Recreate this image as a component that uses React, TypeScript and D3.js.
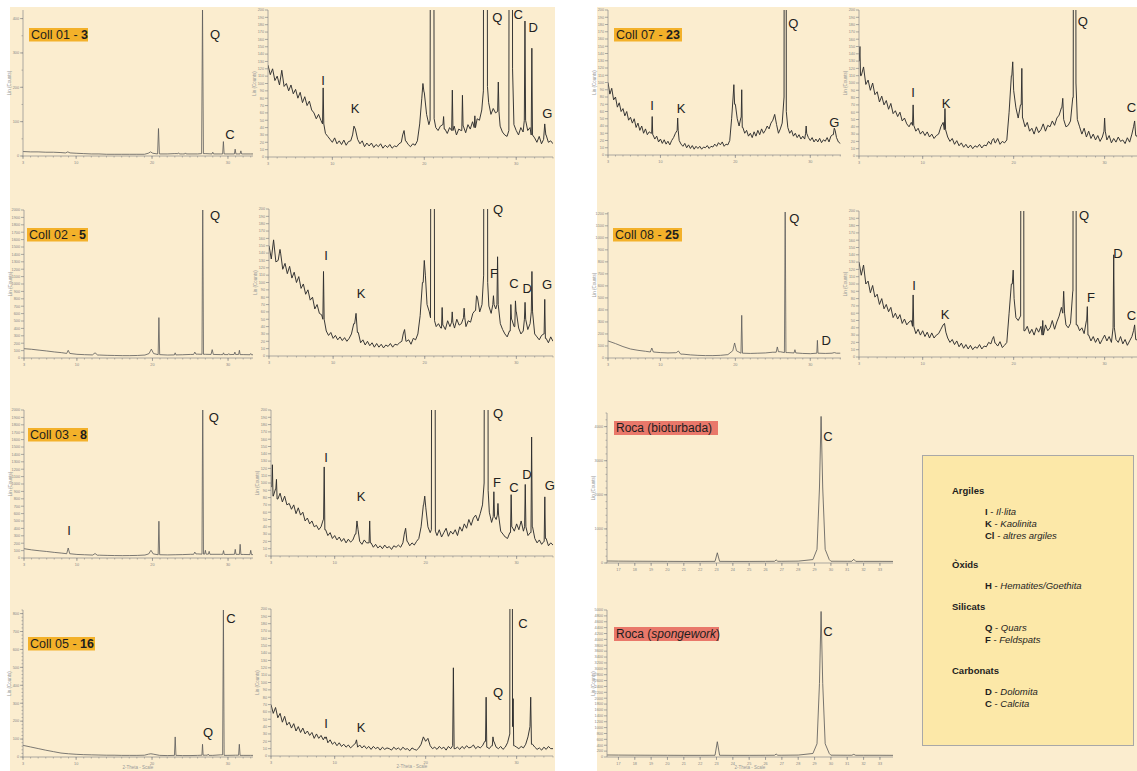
import React from "react";
import * as d3 from "d3";

type Peak = [number, number, number?];
type Pt = [number, number];
type Label = [string, number, number];

// sampling of the background arrays (2-Theta, degrees)
const START = 3;
const ZOOM_STEP = 0.25;
const FULL_STEP = 1;
const ROCA_START = 16;

const mainTicks = [3, 10, 20, 30];
const rocaTicks = d3.range(17, 34);

// ---------- Coll 01 - 3 ----------
const coll01Full = [13, 12, 12, 11, 11, 10, 9, 8, 7, 6, 6, 5, 5, 5, 5, 5, 5, 8, 6, 6, 7, 6, 6, 6, 7, 6, 6, 6, 6, 6, 6, 6];
const coll01FullPeaks: Peak[] = [[8.9, 12, 0.3], [19.8, 12, 0.3], [20.85, 80, 0.12], [23.5, 9, 0.1], [24.4, 9, 0.1], [26.65, 440, 0.12], [28.0, 11, 0.1], [29.4, 42, 0.1], [30.95, 20, 0.1], [31.7, 15, 0.1]];
const coll01Zoom = [
  125, 112, 120, 104, 110, 98, 118, 96, 100, 90, 98, 86, 92, 80, 88, 74, 82, 70, 76, 64,
  60, 52, 58, 50, 45, 32, 28, 24, 20, 26, 18, 22, 17, 23, 16, 21, 22, 30, 38, 24,
  18, 22, 14, 19, 15, 19, 13, 17, 14, 18, 12, 16, 13, 17, 12, 15, 14, 18, 20, 30,
  22, 17, 14, 18, 16, 22, 45, 80, 88, 58, 44, 50, 52, 40, 36, 42, 44, 38, 32, 40,
  36, 42, 30, 38, 36, 42, 33, 44, 38, 48, 40, 52, 50, 64, 90, 96, 74, 58, 66, 60,
  62, 42, 34, 30, 28, 36, 120, 44, 36, 30, 40, 34, 50, 36, 40, 30, 26, 20, 28, 18,
  24, 30, 20, 22, 18,
];
const coll01ZoomPeaks: Peak[] = [[9.0, 94], [12.35, 42, 0.15], [17.8, 36, 0.15], [19.85, 100, 0.12], [20.85, 2000, 0.22], [22.1, 55], [23.05, 91], [24.15, 84], [25.5, 56], [26.65, 3000, 0.22], [28.05, 102], [29.4, 2500, 0.2], [30.95, 185], [31.7, 148], [33.1, 45, 0.12]];

// ---------- Coll 02 - 5 ----------
const coll02Full = [126, 118, 106, 95, 82, 72, 62, 50, 45, 42, 40, 36, 34, 32, 32, 34, 40, 60, 45, 40, 42, 44, 48, 52, 50, 48, 46, 46, 48, 46, 44, 44];
const coll02FullPeaks: Peak[] = [[8.85, 104, 0.2], [12.4, 70, 0.35], [19.85, 120, 0.3], [20.85, 546, 0.1], [23.0, 70, 0.1], [25.6, 80, 0.15], [26.65, 2200, 0.1], [27.9, 113, 0.15], [29.4, 70, 0.1], [30.1, 60, 0.1], [30.9, 80, 0.1], [31.5, 104, 0.1], [33.0, 60, 0.1]];
const coll02Zoom = [
  150, 132, 158, 128, 130, 140, 118, 126, 112, 122, 106, 114, 100, 108, 92, 98, 84, 90, 76, 80,
  64, 70, 58, 56, 50, 34, 28, 32, 24, 28, 22, 26, 21, 25, 20, 24, 30, 44, 50, 32,
  18, 22, 15, 20, 14, 18, 12, 17, 12, 16, 11, 15, 13, 17, 12, 16, 15, 18, 20, 30,
  20, 22, 16, 24, 22, 30, 55, 100, 110, 70, 60, 52, 48, 40, 44, 38, 42, 36, 48, 40,
  46, 38, 50, 42, 44, 52, 40, 48, 46, 58, 62, 80, 60, 70, 110, 100, 68, 58, 70, 64,
  70, 44, 36, 30, 26, 34, 50, 40, 60, 38, 30, 34, 50, 36, 44, 60, 30, 26, 22, 28,
  30, 24, 18, 26, 20,
];
const coll02ZoomPeaks: Peak[] = [[4.2, 145], [8.95, 115], [12.5, 58, 0.15], [17.8, 36, 0.15], [19.95, 130, 0.12], [20.85, 2000, 0.22], [21.9, 66], [23.0, 60], [24.3, 65], [25.65, 82, 0.1], [26.65, 3000, 0.22], [27.5, 82], [27.95, 135], [29.4, 70], [29.9, 75], [30.95, 73], [31.7, 115], [33.1, 77]];

// ---------- Coll 03 - 8 ----------
const coll03Full = [126, 110, 98, 88, 76, 66, 58, 48, 44, 40, 38, 35, 33, 32, 33, 35, 40, 55, 44, 42, 44, 46, 50, 55, 52, 50, 50, 48, 50, 48, 46, 46];
const coll03FullPeaks: Peak[] = [[8.85, 135, 0.2], [12.4, 60, 0.3], [19.8, 104, 0.3], [20.85, 497, 0.1], [25.6, 80, 0.15], [26.65, 2300, 0.1], [27.0, 104, 0.1], [27.5, 90, 0.1], [29.4, 100, 0.1], [30.95, 117, 0.1], [31.6, 185, 0.1], [33.0, 104, 0.1]];
const coll03Zoom = [
  95, 82, 92, 78, 86, 74, 82, 70, 72, 64, 70, 58, 66, 56, 60, 48, 52, 44, 48, 40,
  42, 36, 40, 50, 36, 28, 32, 24, 28, 22, 26, 20, 24, 18, 23, 19, 22, 30, 36, 20,
  16, 22, 18, 18, 18, 12, 16, 11, 14, 10, 15, 11, 13, 9, 14, 12, 15, 12, 18, 30,
  20, 14, 18, 15, 20, 24, 40, 70, 66, 40, 32, 36, 34, 28, 36, 26, 32, 38, 27, 34,
  30, 36, 28, 40, 34, 44, 38, 50, 42, 52, 56, 48, 58, 70, 100, 90, 60, 46, 54, 50,
  56, 34, 30, 26, 24, 32, 40, 34, 44, 36, 48, 34, 40, 28, 32, 40, 24, 18, 22, 16,
  20, 24, 14, 18, 15,
];
const coll03ZoomPeaks: Peak[] = [[3.15, 125], [3.6, 105], [8.85, 122], [12.45, 48, 0.12], [13.85, 48], [17.8, 38, 0.15], [19.9, 82, 0.12], [20.85, 2000, 0.22], [26.65, 3000, 0.22], [27.5, 88], [27.95, 72], [29.4, 84], [30.95, 98], [31.65, 163], [33.1, 81]];

// ---------- Coll 05 - 16 ----------
const coll05Full = [65, 56, 47, 38, 30, 22, 18, 15, 13, 12, 11, 10, 10, 9, 9, 9, 10, 16, 9, 8, 9, 8, 8, 9, 10, 9, 12, 9, 10, 9, 9, 9];
const coll05FullPeaks: Peak[] = [[19.85, 18, 0.3], [23.05, 112, 0.1], [26.65, 71, 0.08], [27.4, 16, 0.1], [29.4, 830, 0.1], [31.5, 71, 0.1]];
const coll05Zoom = [
  70, 58, 66, 52, 58, 46, 54, 42, 46, 38, 44, 34, 40, 32, 38, 30, 34, 28, 32, 24,
  30, 24, 28, 22, 26, 18, 22, 16, 19, 14, 18, 13, 16, 12, 15, 11, 14, 17, 12, 15,
  11, 14, 10, 13, 9, 13, 10, 12, 8, 12, 9, 11, 10, 8, 12, 9, 11, 8, 12, 9,
  10, 7, 11, 9, 8, 11, 16, 26, 20, 24, 14, 10, 12, 9, 13, 10, 12, 8, 13, 10,
  14, 10, 12, 9, 13, 10, 14, 11, 12, 15, 10, 13, 11, 14, 20, 12, 10, 14, 20, 12,
  10, 13, 9, 12, 18, 30, 40, 14, 12, 10, 13, 11, 16, 26, 40, 16, 12, 9, 11, 8,
  12, 9, 13, 10, 10,
];
const coll05ZoomPeaks: Peak[] = [[9.0, 24], [12.4, 22, 0.12], [23.05, 120, 0.08], [26.65, 80, 0.07], [27.4, 26], [29.4, 2000, 0.15], [29.62, 78, 0.06], [31.55, 80, 0.08]];

// ---------- Coll 07 - 23 ----------
const coll07Full = [
  100, 84, 92, 76, 80, 66, 72, 60, 64, 54, 60, 48, 52, 44, 50, 38, 44, 34, 40, 30,
  36, 28, 32, 30, 28, 22, 26, 18, 22, 16, 21, 15, 19, 14, 20, 24, 30, 34, 20, 15,
  12, 16, 10, 14, 9, 13, 8, 12, 9, 12, 8, 11, 10, 13, 9, 12, 11, 15, 12, 17,
  14, 18, 12, 15, 14, 20, 50, 80, 70, 50, 40, 52, 38, 30, 34, 26, 30, 24, 32, 26,
  34, 28, 36, 30, 34, 40, 36, 44, 48, 56, 42, 30, 36, 44, 80, 60, 38, 30, 34, 26,
  30, 24, 28, 22, 26, 22, 30, 24, 20, 24, 18, 22, 18, 23, 17, 21, 19, 24, 18, 26,
  28, 34, 24, 18, 16,
];
const coll07FullPeaks: Peak[] = [[8.9, 53], [12.3, 51], [19.8, 97, 0.1], [20.85, 90, 0.07], [26.65, 2500, 0.15], [29.45, 40], [33.2, 37, 0.12]];
const coll07Zoom = [
  130, 110, 122, 98, 104, 90, 100, 84, 88, 74, 82, 70, 76, 64, 72, 58, 62, 54, 60, 48,
  52, 44, 40, 46, 42, 34, 38, 30, 34, 28, 33, 26, 30, 24, 28, 30, 40, 46, 36, 26,
  20, 24, 16, 21, 14, 18, 12, 16, 11, 15, 10, 14, 12, 16, 11, 15, 14, 20, 16, 22,
  18, 24, 16, 20, 18, 22, 60, 110, 90, 66, 52, 70, 52, 40, 46, 34, 38, 30, 40, 32,
  36, 44, 34, 42, 40, 48, 42, 52, 56, 66, 50, 40, 42, 48, 80, 100, 50, 40, 30, 38,
  26, 34, 24, 30, 22, 28, 20, 26, 34, 22, 28, 18, 24, 19, 26, 20, 22, 17, 25, 19,
  30, 40, 28, 22, 20,
];
const coll07ZoomPeaks: Peak[] = [[3.1, 150], [8.95, 70], [12.45, 65], [17.8, 24, 0.15], [19.9, 129, 0.1], [20.9, 120, 0.07], [25.4, 79, 0.1], [26.7, 2500, 0.15], [30.0, 52], [33.3, 48, 0.12]];

// ---------- Coll 08 - 25 ----------
const coll08Full = [142, 120, 95, 75, 64, 56, 50, 45, 42, 44, 32, 26, 22, 20, 20, 22, 28, 60, 40, 38, 40, 42, 48, 52, 45, 42, 38, 36, 40, 38, 40, 40];
const coll08FullPeaks: Peak[] = [[8.85, 83, 0.2], [12.4, 58, 0.3], [19.9, 125, 0.25], [20.85, 355, 0.1], [25.6, 92, 0.15], [26.65, 1300, 0.1], [27.95, 69, 0.12], [30.95, 147, 0.08], [33.2, 45, 0.3]];
const coll08Zoom = [
  130, 112, 126, 100, 104, 88, 98, 82, 86, 72, 80, 66, 72, 62, 68, 54, 60, 52, 58, 46,
  52, 44, 48, 50, 42, 32, 38, 30, 36, 28, 34, 26, 33, 26, 30, 32, 38, 44, 34, 26,
  20, 24, 17, 22, 14, 19, 12, 17, 11, 16, 10, 14, 12, 17, 11, 15, 14, 20, 18, 24,
  19, 15, 21, 13, 16, 20, 60, 100, 80, 54, 50, 56, 46, 36, 42, 32, 38, 30, 40, 34,
  42, 30, 44, 36, 40, 50, 38, 48, 56, 68, 60, 44, 40, 46, 90, 120, 44, 36, 40, 32,
  50, 30, 22, 28, 20, 26, 18, 24, 30, 22, 28, 20, 40, 24, 20, 28, 18, 24, 16, 22,
  28, 36, 24, 20, 18,
];
const coll08ZoomPeaks: Peak[] = [[8.95, 85], [12.4, 46, 0.15], [17.8, 28, 0.15], [19.95, 119, 0.1], [20.95, 2000, 0.18], [23.2, 50], [25.5, 90, 0.1], [26.7, 2500, 0.18], [28.1, 69], [31.0, 140], [33.3, 44, 0.12]];

// ---------- Roca ----------
const rocaBio = [60, 55, 52, 50, 48, 46, 46, 48, 46, 46, 48, 50, 55, 60, 52, 50, 48, 48, 46];
const rocaBioPeaks: Peak[] = [[23.05, 300, 0.14], [26.65, 90, 0.1], [31.4, 110, 0.12]];
const rocaBioCalcite: Pt[] = [[28.9, 100], [29.15, 400], [29.3, 2200], [29.4, 4300], [29.5, 2200], [29.65, 400], [29.9, 100]];
const rocaSpo = [70, 65, 62, 60, 58, 56, 56, 58, 56, 56, 58, 60, 65, 70, 62, 60, 58, 58, 56];
const rocaSpoPeaks: Peak[] = [[23.05, 520, 0.14], [26.65, 100, 0.1], [31.4, 90, 0.12]];
const rocaSpoCalcite: Pt[] = [[28.9, 120], [29.15, 450], [29.3, 2500], [29.4, 4950], [29.5, 2500], [29.65, 450], [29.9, 120]];

// ---------- peak letters: [letter, 2-theta, counts] ----------
const lab01Full: Label[] = [["Q", 28.3, 341], ["C", 30.27, 50]];
const lab01Zoom: Label[] = [["I", 9.0, 98], ["K", 12.47, 60], ["Q", 27.93, 184], ["C", 30.22, 188], ["D", 31.85, 170], ["G", 33.38, 53]];
const lab02Full: Label[] = [["Q", 28.27, 1865]];
const lab02Zoom: Label[] = [["I", 9.22, 131], ["K", 13.04, 79], ["Q", 28.0, 193], ["F", 27.56, 106], ["C", 29.75, 92], ["D", 31.17, 86], ["G", 33.35, 91]];
const lab03Full: Label[] = [["Q", 28.13, 1838], ["I", 8.95, 311]];
const lab03Zoom: Label[] = [["I", 9.04, 129], ["K", 12.89, 75], ["Q", 27.95, 189], ["F", 27.84, 94], ["C", 29.7, 88], ["D", 31.13, 105], ["G", 33.66, 90]];
const lab05Full: Label[] = [["C", 30.4, 747], ["Q", 27.37, 112]];
const lab05Zoom: Label[] = [["C", 30.69, 174], ["Q", 27.95, 80], ["I", 9.04, 38], ["K", 12.89, 33]];
const lab07Full: Label[] = [["Q", 27.73, 175], ["I", 8.88, 62], ["K", 12.76, 58], ["G", 33.21, 39]];
const lab07Zoom: Label[] = [["I", 8.93, 81], ["K", 12.56, 66], ["Q", 27.6, 178], ["C", 32.95, 60]];
const lab08Full: Label[] = [["Q", 27.87, 1123], ["D", 32.14, 108]];
const lab08Zoom: Label[] = [["Q", 27.73, 188], ["D", 31.46, 136], ["F", 28.5, 75], ["I", 9.04, 92], ["K", 12.45, 52], ["C", 32.95, 51]];
const labRocaBio: Label[] = [["C", 29.82, 3579]];
const labRocaSpo: Label[] = [["C", 29.82, 4116]];

// ---------- legend ----------
const legendGroups = ["Argiles", "Òxids", "Silicats", "Carbonats"];
const legendItems: [string, string][][] = [
  [["I", "Il·lita"], ["K", "Kaolinita"], ["Cl", "altres argiles"]],
  [["H", "Hematites/Goethita"]],
  [["Q", "Quars"], ["F", "Feldspats"]],
  [["D", "Dolomita"], ["C", "Calcita"]],
];

const FONT = "'Liberation Sans', Arial, sans-serif";

function buildTrace(start: number, step: number, bg: number[], peaks: Peak[], shapes: Pt[][] = []): Pt[] {
  const at = (t: number) => bg[Math.max(0, Math.min(bg.length - 1, Math.round((t - start) / step)))];
  const groups: Pt[][] = [
    ...peaks.map(([p, h, hw = 0.07]) => [[p - hw, at(p - hw)], [p, h], [p + hw, at(p + hw)]] as Pt[]),
    ...shapes,
  ];
  let pts: Pt[] = bg.map((v, i) => [start + i * step, v]);
  groups.forEach((g) => {
    const a = g[0][0];
    const b = g[g.length - 1][0];
    pts = pts.filter(([t]) => t <= a || t >= b);
  });
  groups.forEach((g) => pts.push(...g));
  return pts.sort((m, n) => m[0] - n[0]);
}

interface Box { left: number; right: number; top: number; bottom: number }

interface PlotProps {
  id: string;
  box: Box;
  xDomain: [number, number];
  yMax: number;
  yStep: number;
  yMinor?: number;
  xLabels: number[];
  trace: Pt[];
  labels: Label[];
  xTitle?: boolean;
  color: string;
  width?: number;
}

function Plot({ id, box, xDomain, yMax, yStep, yMinor, xLabels, trace, labels, xTitle, color, width = 0.8 }: PlotProps) {
  const x = d3.scaleLinear().domain(xDomain).range([box.left, box.right]);
  const y = d3.scaleLinear().domain([0, yMax]).range([box.bottom, box.top]);
  const line = d3.line<Pt>().x((d) => x(d[0])).y((d) => y(d[1]));
  const yMajor = d3.range(0, yMax + 1e-6, yStep);
  const yMin = yMinor ? d3.range(0, yMax + 1e-6, yMinor) : [];
  const xMinor = d3.range(Math.ceil(xDomain[0]), Math.floor(xDomain[1]) + 1);
  const axis = "#8a8a8a";
  return (
    <g>
      <defs>
        <clipPath id={id}>
          <rect x={box.left} y={box.top} width={box.right - box.left} height={box.bottom - box.top} />
        </clipPath>
      </defs>
      <path d={line(trace) || ""} clipPath={`url(#${id})`} fill="none" stroke={color} strokeWidth={width} strokeLinejoin="round" />
      <line x1={box.left} x2={box.left} y1={box.top} y2={box.bottom} stroke={axis} strokeWidth={0.7} />
      <line x1={box.left} x2={box.right} y1={box.bottom} y2={box.bottom} stroke={axis} strokeWidth={0.7} />
      {yMin.map((v) => (
        <line key={`ym${v}`} x1={box.left - 1.5} x2={box.left} y1={y(v)} y2={y(v)} stroke={axis} strokeWidth={0.6} />
      ))}
      {yMajor.map((v) => (
        <g key={`y${v}`}>
          <line x1={box.left - 3} x2={box.left} y1={y(v)} y2={y(v)} stroke={axis} strokeWidth={0.7} />
          <text x={box.left - 4} y={y(v) + 1.3} fontSize={3.8} textAnchor="end" fill="#888" fontFamily={FONT}>
            {v}
          </text>
        </g>
      ))}
      {xMinor.map((t) => (
        <line key={`xm${t}`} x1={x(t)} x2={x(t)} y1={box.bottom} y2={box.bottom + 1.5} stroke={axis} strokeWidth={0.6} />
      ))}
      {xLabels.map((t) => (
        <g key={`x${t}`}>
          <line x1={x(t)} x2={x(t)} y1={box.bottom} y2={box.bottom + 3} stroke={axis} strokeWidth={0.7} />
          <text x={x(t)} y={box.bottom + 8} fontSize={3.8} textAnchor="middle" fill="#888" fontFamily={FONT}>
            {t}
          </text>
        </g>
      ))}
      <text
        transform={`translate(${box.left - 12},${(box.top + box.bottom) / 2}) rotate(-90)`}
        fontSize={4.5}
        textAnchor="middle"
        fill="#999"
        fontFamily={FONT}
      >
        Lin (Counts)
      </text>
      {xTitle && (
        <text x={(box.left + box.right) / 2} y={box.bottom + 12} fontSize={4.5} textAnchor="middle" fill="#999" fontFamily={FONT}>
          2-Theta - Scale
        </text>
      )}
      {labels.map(([s, t, v], i) => (
        <text key={`l${i}`} x={x(t)} y={y(v)} fontSize={13} textAnchor="middle" fill="#222" fontFamily={FONT}>
          {s}
        </text>
      ))}
    </g>
  );
}

const sampleTags = [
  { name: "Coll 01 - ", num: "3", x: 29, y: 28, w: 59 },
  { name: "Coll 02 - ", num: "5", x: 27, y: 228, w: 61 },
  { name: "Coll 03 - ", num: "8", x: 28, y: 428, w: 60 },
  { name: "Coll 05 - ", num: "16", x: 28, y: 637, w: 67 },
  { name: "Coll 07 - ", num: "23", x: 614, y: 28, w: 68 },
  { name: "Coll 08 - ", num: "25", x: 613, y: 228, w: 69 },
];

export default function App() {
  const full = (bg: number[], pk: Peak[]) => buildTrace(START, FULL_STEP, bg, pk);
  const zoom = (bg: number[], pk: Peak[]) => buildTrace(START, ZOOM_STEP, bg, pk);
  const noisy = "#2e2e2e";
  const smooth = "#5a5a5a";

  const plots: PlotProps[] = [
    { id: "c01f", box: { left: 23, right: 253, top: 10, bottom: 156 }, xDomain: [3, 33.3], yMax: 425, yStep: 100, yMinor: 50, xLabels: mainTicks, trace: full(coll01Full, coll01FullPeaks), labels: lab01Full, color: smooth },
    { id: "c01z", box: { left: 268, right: 553, top: 10, bottom: 157 }, xDomain: [3, 34], yMax: 200, yStep: 10, xLabels: mainTicks, trace: zoom(coll01Zoom, coll01ZoomPeaks), labels: lab01Zoom, color: noisy, width: 0.95 },
    { id: "c02f", box: { left: 24, right: 253, top: 210, bottom: 358 }, xDomain: [3, 33.3], yMax: 2000, yStep: 100, xLabels: mainTicks, trace: full(coll02Full, coll02FullPeaks), labels: lab02Full, color: smooth },
    { id: "c02z", box: { left: 269, right: 553, top: 209, bottom: 356 }, xDomain: [3, 34], yMax: 200, yStep: 10, xLabels: mainTicks, trace: zoom(coll02Zoom, coll02ZoomPeaks), labels: lab02Zoom, color: noisy, width: 0.95 },
    { id: "c03f", box: { left: 24, right: 253, top: 410, bottom: 558 }, xDomain: [3, 33.3], yMax: 2000, yStep: 100, xLabels: mainTicks, trace: full(coll03Full, coll03FullPeaks), labels: lab03Full, color: smooth },
    { id: "c03z", box: { left: 271, right: 553, top: 410, bottom: 556 }, xDomain: [3, 34], yMax: 200, yStep: 10, xLabels: mainTicks, trace: zoom(coll03Zoom, coll03ZoomPeaks), labels: lab03Zoom, color: noisy, width: 0.95 },
    { id: "c05f", box: { left: 23, right: 253, top: 610, bottom: 757 }, xDomain: [3, 33.3], yMax: 820, yStep: 100, yMinor: 20, xLabels: mainTicks, trace: full(coll05Full, coll05FullPeaks), labels: lab05Full, xTitle: true, color: smooth },
    { id: "c05z", box: { left: 271, right: 553, top: 609, bottom: 756 }, xDomain: [3, 34], yMax: 200, yStep: 10, xLabels: mainTicks, trace: zoom(coll05Zoom, coll05ZoomPeaks), labels: lab05Zoom, xTitle: true, color: noisy, width: 0.95 },
    { id: "c07f", box: { left: 608, right: 841, top: 10, bottom: 155 }, xDomain: [3, 34.1], yMax: 200, yStep: 10, xLabels: mainTicks, trace: zoom(coll07Full, coll07FullPeaks), labels: lab07Full, color: noisy, width: 0.95 },
    { id: "c07z", box: { left: 859, right: 1141, top: 10, bottom: 156 }, xDomain: [3, 34], yMax: 200, yStep: 10, xLabels: mainTicks, trace: zoom(coll07Zoom, coll07ZoomPeaks), labels: lab07Zoom, color: noisy, width: 0.95 },
    { id: "c08f", box: { left: 608, right: 841, top: 212, bottom: 358 }, xDomain: [3, 34.1], yMax: 1215, yStep: 100, xLabels: mainTicks, trace: full(coll08Full, coll08FullPeaks), labels: lab08Full, color: smooth },
    { id: "c08z", box: { left: 859, right: 1141, top: 211, bottom: 357 }, xDomain: [3, 34], yMax: 200, yStep: 10, xLabels: mainTicks, trace: zoom(coll08Zoom, coll08ZoomPeaks), labels: lab08Zoom, color: noisy, width: 0.95 },
    { id: "rbio", box: { left: 607, right: 893, top: 413, bottom: 563 }, xDomain: [16.3, 33.8], yMax: 4400, yStep: 1000, yMinor: 200, xLabels: rocaTicks, trace: buildTrace(ROCA_START, FULL_STEP, rocaBio, rocaBioPeaks, [rocaBioCalcite]), labels: labRocaBio, color: "#555" },
    { id: "rspo", box: { left: 607, right: 893, top: 610, bottom: 757 }, xDomain: [16.3, 33.8], yMax: 5000, yStep: 200, xLabels: rocaTicks, trace: buildTrace(ROCA_START, FULL_STEP, rocaSpo, rocaSpoPeaks, [rocaSpoCalcite]), labels: labRocaSpo, xTitle: true, color: "#555" },
  ];

  const headY = [494, 568, 610, 674];

  return (
    <svg width={1137} height={771} style={{ position: "absolute", left: 0, top: 0 }} fontFamily={FONT}>
      <rect x={0} y={0} width={1137} height={771} fill="#ffffff" />
      <rect x={10} y={7} width={545} height={764} fill="#fbedcf" />
      <rect x={597} y={7} width={540} height={764} fill="#fbedcf" />

      {plots.map((p) => (
        <Plot key={p.id} {...p} />
      ))}

      {sampleTags.map((s) => (
        <g key={s.name + s.num}>
          <rect x={s.x} y={s.y} width={s.w} height={13.5} fill="#f3b12a" />
          <text x={s.x + 2} y={s.y + 11} fontSize={12.5} fill="#1e1e1e">
            {s.name}
            <tspan fontWeight="bold">{s.num}</tspan>
          </text>
        </g>
      ))}

      <rect x={614} y={421} width={104} height={14} fill="#e9786a" />
      <text x={616} y={432} fontSize={12} fill="#1e1e1e">
        Roca (bioturbada)
      </text>
      <rect x={614} y={627} width={105} height={14} fill="#e9786a" />
      <text x={616} y={638} fontSize={12} fill="#1e1e1e">
        Roca (<tspan fontStyle="italic">spongework</tspan>)
      </text>

      <rect x={922.5} y={455.5} width={211} height={290} fill="#fce8a8" stroke="#a8a8a8" strokeWidth={1} />
      {legendGroups.map((g, gi) => (
        <g key={g}>
          <text x={952} y={headY[gi]} fontSize={9.5} fontWeight="bold" fill="#1e1e1e">
            {g}
          </text>
          {legendItems[gi].map(([code, name], ii) => (
            <text key={code} x={985} y={headY[gi] + 21 + ii * 12} fontSize={9.5} fill="#1e1e1e">
              <tspan fontWeight="bold">{code}</tspan>
              <tspan> - </tspan>
              <tspan fontStyle="italic">{name}</tspan>
            </text>
          ))}
        </g>
      ))}
    </svg>
  );
}
